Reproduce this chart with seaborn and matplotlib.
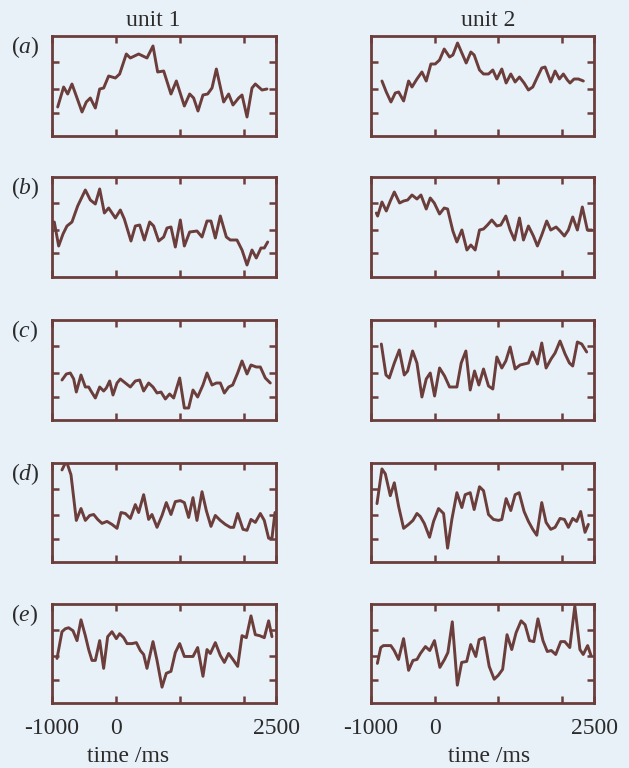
import numpy as np
import pandas as pd
import matplotlib
matplotlib.use("Agg")
import matplotlib.pyplot as plt
import seaborn as sns

# ---------------- data (time in ms, rate in arbitrary units 0-100) ----------------
T_A1 = [-911, -818, -755, -688, -609, -531, -464, -401, -323, -255, -193, -115, -10, 57, 161, 224, 354, 484, 578, 651,
        745, 859, 943, 1068, 1151, 1213, 1281, 1359, 1432, 1500, 1568, 1682, 1760, 1828, 1916, 1969, 2047, 2125, 2177,
        2281, 2359]
Y_A1 = [29, 49, 42, 52, 38, 24, 34, 38, 28, 47, 48, 60, 58, 62, 82, 78, 82, 78, 90, 64,
        65, 42, 55, 30, 42, 38, 25, 41, 42, 48, 67, 34, 42, 31, 38, 41, 19, 48, 52, 46, 47]

T_A2 = [-828, -760, -687, -619, -566, -488, -410, -357, -279, -201, -133, -60, 8, 76, 149, 233, 285, 358, 426, 494,
        567, 619, 703, 766, 844, 912, 975, 1053, 1121, 1194, 1262, 1330, 1403, 1471, 1539, 1612, 1680, 1732, 1821,
        1889, 1957, 2019, 2082, 2124, 2187, 2255, 2333]
Y_A2 = [55, 44, 34, 43, 44, 35, 55, 49, 57, 64, 55, 72, 72, 76, 87, 79, 81, 93, 83, 73,
        84, 81, 66, 62, 62, 66, 57, 67, 53, 62, 54, 59, 53, 46, 49, 59, 68, 69, 54, 65,
        57, 62, 56, 53, 57, 57, 55]

T_B1 = [-964, -896, -828, -766, -688, -599, -479, -401, -323, -255, -182, -115, -10, 68, 130, 234, 302, 370, 443, 526,
        588, 667, 745, 797, 859, 927, 1005, 1068, 1151, 1265, 1344, 1422, 1484, 1552, 1630, 1724, 1786, 1890, 1969,
        2047, 2125, 2192, 2265, 2317, 2370]
Y_B1 = [55, 31, 43, 51, 55, 71, 87, 77, 73, 88, 64, 69, 59, 67, 58, 36, 51, 52, 37, 55,
        51, 36, 40, 49, 50, 30, 57, 31, 45, 46, 40, 56, 56, 39, 61, 40, 37, 37, 27, 12,
        27, 19, 29, 29, 35]

T_B2 = [-916, -896, -828, -760, -697, -634, -551, -488, -425, -357, -279, -216, -133, -70, -7, 76, 149, 202, 285, 348,
        426, 505, 567, 635, 703, 766, 828, 896, 975, 1037, 1116, 1184, 1252, 1330, 1393, 1471, 1549, 1612, 1680, 1758,
        1821, 1905, 1967, 2035, 2098, 2166, 2239, 2317, 2396, 2464]
Y_B2 = [64, 61, 75, 66, 76, 85, 74, 76, 77, 82, 78, 82, 68, 79, 74, 63, 69, 68, 46, 35,
        47, 27, 32, 27, 47, 48, 52, 57, 51, 52, 61, 47, 37, 59, 37, 51, 41, 31, 42, 56,
        47, 50, 46, 41, 47, 60, 47, 70, 47, 47]

T_C1 = [-844, -776, -714, -661, -620, -547, -479, -427, -391, -323, -255, -193, -151, -99, -47, 16, 68, 146, 224, 302,
        370, 432, 510, 578, 641, 703, 771, 838, 901, 995, 1068, 1135, 1203, 1276, 1359, 1422, 1500, 1568, 1630, 1693,
        1760, 1823, 1901, 1969, 2047, 2109, 2192, 2255, 2333, 2411]
Y_C1 = [40, 46, 47, 41, 28, 45, 33, 33, 29, 22, 33, 29, 32, 39, 25, 37, 41, 37, 33, 39,
        40, 29, 37, 33, 27, 28, 21, 26, 22, 42, 12, 12, 30, 23, 35, 47, 35, 37, 37, 27,
        33, 35, 47, 59, 46, 55, 53, 53, 42, 37]

T_C2 = [-838, -765, -713, -634, -556, -478, -425, -347, -279, -201, -133, -70, -2, 76, 155, 233, 348, 416, 489, 557,
        625, 693, 766, 844, 912, 975, 1053, 1116, 1184, 1262, 1340, 1403, 1471, 1534, 1612, 1680, 1748, 1826, 1889,
        1967, 2046, 2114, 2166, 2239, 2307, 2385]
Y_C2 = [76, 45, 42, 57, 70, 45, 49, 69, 57, 23, 41, 47, 24, 52, 44, 33, 33, 57, 69, 30,
        49, 35, 51, 34, 31, 63, 52, 59, 73, 51, 55, 56, 57, 68, 56, 77, 52, 61, 67, 79,
        66, 57, 54, 78, 76, 68]

T_D1 = [-844, -776, -703, -620, -547, -479, -411, -349, -286, -219, -141, -63, 16, 78, 146, 224, 302, 354, 432, 510,
        562, 641, 719, 786, 859, 927, 1005, 1068, 1135, 1203, 1265, 1344, 1411, 1484, 1552, 1630, 1708, 1786, 1838,
        1901, 1984, 2047, 2109, 2177, 2255, 2317, 2385, 2437, 2484]
Y_D1 = [93, 102, 88, 42, 54, 42, 47, 48, 43, 39, 41, 38, 34, 50, 49, 44, 58, 50, 68, 43,
        48, 35, 47, 60, 48, 61, 62, 60, 45, 65, 42, 71, 52, 36, 47, 42, 38, 35, 35, 49,
        33, 32, 43, 40, 49, 42, 24, 24, 50]

T_D2 = [-906, -828, -775, -697, -634, -566, -488, -410, -342, -279, -227, -164, -81, -18, 60, 139, 202, 269, 348, 426,
        478, 557, 619, 703, 766, 844, 922, 1001, 1053, 1121, 1194, 1262, 1325, 1403, 1471, 1539, 1602, 1680, 1748,
        1821, 1889, 1967, 2035, 2098, 2166, 2228, 2291, 2359, 2411]
Y_D2 = [59, 94, 89, 67, 80, 56, 34, 38, 42, 49, 46, 39, 25, 41, 54, 49, 14, 43, 70, 55,
        68, 70, 53, 76, 72, 48, 43, 42, 43, 64, 52, 68, 70, 51, 41, 33, 27, 60, 40, 33,
        35, 44, 43, 35, 44, 41, 51, 30, 38]

T_E1 = [-922, -844, -792, -740, -672, -609, -547, -479, -427, -375, -323, -255, -193, -130, -63, 5, 57, 120, 172, 250,
        318, 380, 432, 484, 578, 641, 719, 786, 859, 927, 995, 1068, 1135, 1203, 1276, 1359, 1422, 1474, 1552, 1630,
        1693, 1760, 1838, 1901, 1969, 2036, 2109, 2177, 2245, 2317, 2385, 2437]
Y_E1 = [45, 72, 75, 76, 73, 63, 84, 68, 54, 43, 43, 63, 35, 67, 72, 65, 70, 66, 60, 60,
        61, 53, 49, 35, 62, 43, 16, 30, 32, 51, 60, 47, 47, 47, 56, 27, 54, 50, 61, 48,
        41, 50, 43, 37, 68, 66, 88, 69, 68, 66, 83, 67]

T_E2 = [-900, -847, -805, -752, -689, -636, -568, -489, -410, -341, -278, -225, -146, -78, -4, 81, 154, 207, 276, 355,
        423, 502, 565, 645, 697, 776, 855, 934, 998, 1066, 1135, 1209, 1277, 1356, 1419, 1488, 1556, 1620, 1699, 1767,
        1831, 1899, 1978, 2041, 2120, 2199, 2279, 2331, 2400, 2453]
Y_E2 = [40, 56, 58, 58, 58, 53, 44, 65, 33, 43, 44, 50, 57, 53, 63, 36, 44, 51, 82, 18,
        41, 42, 59, 47, 64, 66, 37, 24, 28, 34, 69, 54, 71, 83, 79, 63, 62, 85, 63, 52,
        53, 49, 62, 62, 56, 98, 54, 49, 58, 48]

ROW_LABELS = ["a", "b", "c", "d", "e"]
COL_TITLES = ["unit 1", "unit 2"]
XTICK_LABELS = ["-1000", "0", "", "", "2500"]
X_LABEL = "time /ms"

SERIES = [[(T_A1, Y_A1), (T_A2, Y_A2)],
          [(T_B1, Y_B1), (T_B2, Y_B2)],
          [(T_C1, Y_C1), (T_C2, Y_C2)],
          [(T_D1, Y_D1), (T_D2, Y_D2)],
          [(T_E1, Y_E1), (T_E2, Y_E2)]]

# ---------------- style ----------------
sns.set_style("ticks")
plt.rcParams["font.family"] = ["Liberation Serif", "DejaVu Serif"]
plt.rcParams["mathtext.fontset"] = "custom"
plt.rcParams["mathtext.it"] = "Liberation Serif:italic"
plt.rcParams["mathtext.rm"] = "Liberation Serif"

BG = "#e8f0f8"
INK = "#6b3d3b"
TXT = "#2b2b2b"
FS = 17
W, H = 629, 768

fig = plt.figure(figsize=(W / 100, H / 100), dpi=100, facecolor=BG)

COL_X = [(52, 276), (371, 594)]
ROW_Y = [(36, 136), (177, 277), (320, 420), (463, 562), (604, 703)]

for r, row in enumerate(SERIES):
    for c, (t, y) in enumerate(row):
        x0, x1 = COL_X[c]
        y0, y1 = ROW_Y[r]
        ax = fig.add_axes([x0 / W, 1 - y1 / H, (x1 - x0) / W, (y1 - y0) / H])
        ax.set_facecolor(BG)
        df = pd.DataFrame({"time": t, "rate": y})
        sns.lineplot(data=df, x="time", y="rate", ax=ax, color=INK, linewidth=2.1,
                     estimator=None, sort=False)
        ax.set_xlim(-1000, 2500)
        ax.set_ylim(0, 100)
        ax.set_xticks([-1000, 0, 1000, 2000, 2500])
        if r == len(SERIES) - 1:
            ax.set_xticklabels(XTICK_LABELS)
        else:
            ax.set_xticklabels([""] * 5)
        ax.set_yticks([23.5, 47, 74])
        ax.set_yticklabels([])
        ax.set_xlabel("")
        ax.set_ylabel("")
        ax.tick_params(direction="in", top=True, right=True, length=5, width=1.8,
                       color=INK, labelsize=FS, labelcolor=TXT, pad=11)
        for s in ax.spines.values():
            s.set_color(INK)
            s.set_linewidth(2.0)

# column titles
fig.text(153 / W, 1 - 21 / H, COL_TITLES[0], ha="center", va="center", fontsize=FS, color=TXT)
fig.text(488 / W, 1 - 20 / H, COL_TITLES[1], ha="center", va="center", fontsize=FS, color=TXT)

# row labels
for r, lab in enumerate(ROW_LABELS):
    top = ROW_Y[r][0]
    fig.text(25 / W, 1 - (top + 11) / H, "(" + r"$\mathit{" + lab + "}$" + ")",
             ha="center", va="center", fontsize=FS, color=TXT)

# x axis labels
fig.text(128 / W, 1 - 757 / H, X_LABEL, ha="center", va="center", fontsize=FS, color=TXT)
fig.text(489 / W, 1 - 757 / H, X_LABEL, ha="center", va="center", fontsize=FS, color=TXT)

fig.savefig("out.png", dpi=100, facecolor=BG)
